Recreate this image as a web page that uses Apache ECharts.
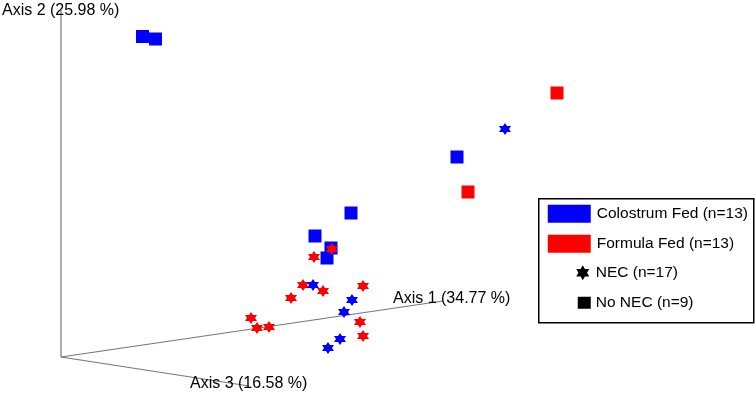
<!DOCTYPE html>
<html>
<head>
<meta charset="utf-8">
<script src="https://cdn.jsdelivr.net/npm/echarts@6/dist/echarts.min.js"></script>
<style>
  html, body { margin: 0; padding: 0; background: #fff; }
  #chart { width: 756px; height: 395px; }
</style>
</head>
<body>
<div id="chart"></div>
<script>
// projected PCoA positions (origin of the 3 axes at 0,0)
const colostrumSquares = [[81.5, 320.5], [94.5, 318], [396, 200], [290, 144], [254, 121], [270, 109], [266, 99]];
const formulaSquares = [[496, 264], [407, 165]];
const colostrumStars = [[444, 228], [252, 72], [291, 57], [283, 45], [279, 18], [267, 9]];
const formulaStars = [[271, 108], [253, 100], [242, 72], [262, 66], [230, 59], [302, 71], [190, 39], [196, 29], [208, 30], [299, 35], [302, 21]];

// axis ends in the same projection
const axis1 = [[0, 0], [382, 56]];
const axis2 = [[0, 0], [0, 347]];
const axis3 = [[0, 0], [188, -29]];

const axisNames = ['Axis 1 (34.77 %)', 'Axis 2 (25.98 %)', 'Axis 3 (16.58 %)'];
const legendNames = ['Colostrum Fed (n=13)', 'Formula Fed (n=13)', 'NEC (n=17)', 'No NEC (n=9)'];

const BLUE = '#0000ff';
const RED = '#ff0000';
const FONT = 'Liberation Sans, Arial, sans-serif';

function starPoints(cx, cy, r) {
  let pts = [];
  for (let i = 0; i < 12; i++) {
    let a = -Math.PI / 2 + i * Math.PI / 6;
    let rr = i % 2 ? r * 0.577 : r;
    pts.push([cx + rr * Math.cos(a), cy + rr * Math.sin(a)]);
  }
  return pts;
}
const starPath = 'path://M' + starPoints(0, 0, 10).map(p => p[0].toFixed(2) + ',' + p[1].toFixed(2)).join('L') + 'Z';

function axisLine(data) {
  return {
    type: 'line', data: data, symbol: 'none', silent: true, z: 1,
    lineStyle: { color: '#777', width: 1.2 }
  };
}

function points(data, color, symbol, size, z) {
  return {
    type: 'scatter', data: data, symbol: symbol, symbolSize: size, z: z,
    itemStyle: { color: color, opacity: 1 }
  };
}

const option = {
  animation: false,
  backgroundColor: '#fff',
  grid: { left: 0, right: 0, top: 0, bottom: 0 },
  xAxis: { type: 'value', min: -61, max: 695, show: false },
  yAxis: { type: 'value', min: -38, max: 357, show: false },
  series: [
    axisLine(axis1), axisLine(axis2), axisLine(axis3),
    points(colostrumSquares, BLUE, 'rect', 13, 2),
    points(formulaSquares, RED, 'rect', 13, 2),
    points(formulaStars, RED, starPath, 12, 3),
    points(colostrumStars, BLUE, starPath, 12, 4)
  ],
  graphic: [
    { type: 'text', left: 393, top: 291, z: 10, style: { text: axisNames[0], font: '16px ' + FONT, fill: '#000' } },
    { type: 'text', left: 2, top: 3, z: 10, style: { text: axisNames[1], font: '16px ' + FONT, fill: '#000' } },
    { type: 'text', left: 190, top: 376, z: 10, style: { text: axisNames[2], font: '16px ' + FONT, fill: '#000' } },
    {
      type: 'group', left: 538, top: 198, z: 10,
      children: [
        { type: 'rect', shape: { x: 0, y: 0, width: 215, height: 124 }, style: { fill: '#fff', stroke: '#000', lineWidth: 1.5 } },
        { type: 'rect', shape: { x: 9, y: 6, width: 43, height: 18 }, style: { fill: BLUE } },
        { type: 'text', x: 58, y: 15, style: { text: legendNames[0], font: '15.5px ' + FONT, fill: '#000', verticalAlign: 'middle' } },
        { type: 'rect', shape: { x: 9, y: 36, width: 43, height: 18 }, style: { fill: RED } },
        { type: 'text', x: 58, y: 45, style: { text: legendNames[1], font: '15.5px ' + FONT, fill: '#000', verticalAlign: 'middle' } },
        { type: 'polygon', shape: { points: starPoints(44, 74, 7.5) }, style: { fill: '#000' } },
        { type: 'text', x: 57, y: 74, style: { text: legendNames[2], font: '15.5px ' + FONT, fill: '#000', verticalAlign: 'middle' } },
        { type: 'rect', shape: { x: 39, y: 98, width: 13, height: 12 }, style: { fill: '#000' } },
        { type: 'text', x: 57, y: 104, style: { text: legendNames[3], font: '15.5px ' + FONT, fill: '#000', verticalAlign: 'middle' } }
      ]
    }
  ]
};

const myChart = echarts.init(document.getElementById('chart'));
myChart.setOption(option);
window.addEventListener('resize', function() {
  myChart.resize();
});
</script>
</body>
</html>
